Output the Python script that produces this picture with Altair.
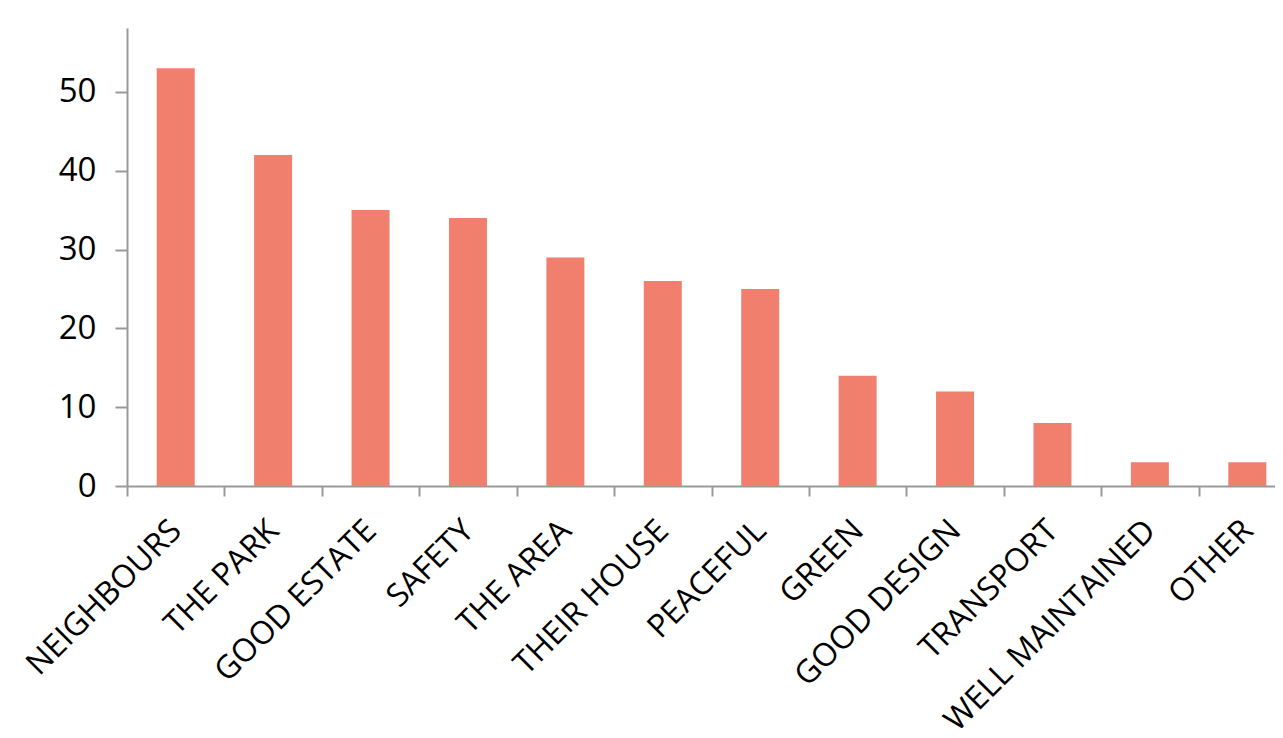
import altair as alt
import pandas as pd

categories = ["NEIGHBOURS", "THE PARK", "GOOD ESTATE", "SAFETY", "THE AREA", "THEIR HOUSE",
              "PEACEFUL", "GREEN", "GOOD DESIGN", "TRANSPORT", "WELL MAINTAINED", "OTHER"]
values = [53, 42, 35, 34, 29, 26, 25, 14, 12, 8, 3, 3]
y_ticks = [0, 10, 20, 30, 40, 50]

df = pd.DataFrame({"cat": categories, "val": values})

FONT = "Open Sans"

chart = alt.Chart(df).mark_bar(
    color="#F07F6E", width=alt.RelativeBandSize(0.39)
).encode(
    x=alt.X("cat:N", sort=categories,
            scale=alt.Scale(range=[0, 1169], paddingInner=0, paddingOuter=0),
            axis=alt.Axis(title=None, labelAngle=-45, labelAlign="right", labelBaseline="middle",
                          tickBand="extent", tickSize=10, labelPadding=29,
                          labelFont=FONT, labelFontSize=32, labelColor="#000",
                          domainColor="#999", domainWidth=2, tickColor="#999", tickWidth=2,
                          labelOverlap=False, labelLimit=0)),
    y=alt.Y("val:Q", scale=alt.Scale(domain=[0, 58.1], nice=False, zero=True),
            axis=alt.Axis(title=None, values=y_ticks, grid=False, tickSize=12, labelPadding=19,
                          labelFont=FONT, labelFontSize=33, labelColor="#000",
                          domainColor="#999", domainWidth=2, tickColor="#999", tickWidth=2)),
).properties(
    width=1148, height=458,
    autosize=alt.AutoSizeParams(type="none"),
    padding={"left": 119, "top": 20, "right": 0, "bottom": 242},
).configure_view(stroke=None)

chart.save("out.html", embed_options={"renderer": "svg", "actions": False})
